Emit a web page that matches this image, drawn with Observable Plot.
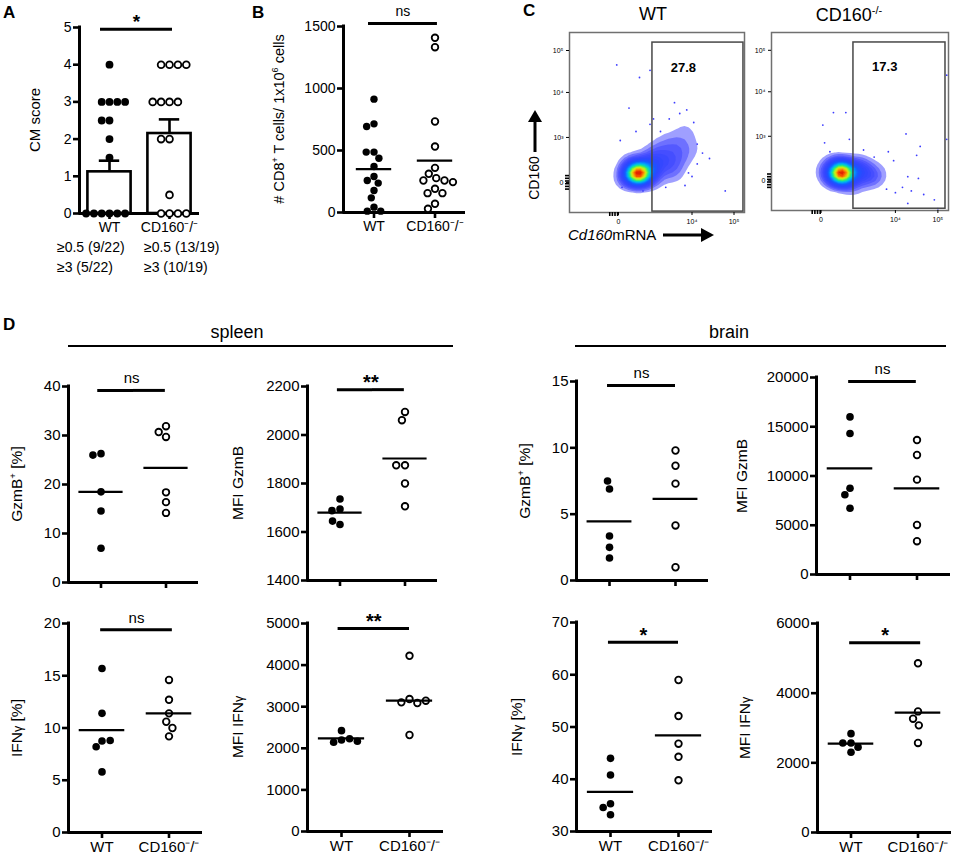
<!DOCTYPE html>
<html><head><meta charset="utf-8">
<script src="https://cdn.jsdelivr.net/npm/d3@7"></script>
<script src="https://cdn.jsdelivr.net/npm/@observablehq/plot@0.6"></script>
<style>
body{margin:0;background:#fff;}
#fig{position:relative;width:957px;height:858px;overflow:hidden;background:#fff;}
sup.s{font-size:0.62em;vertical-align:super;line-height:0;}
span.g{font-size:0.8em;}
</style></head><body><div id="fig"></div><script>
// ---------- data ----------
const groups = ["WT", "CD160⁻/⁻"];

// Panel A: CM score
const cmWT = [4, 3, 3, 3, 3, 2.5, 2.5, 2, 1.5, 0, 0, 0, 0, 0, 0];
const cmKO = [4, 4, 4, 4, 3, 3, 3, 3, 2, 2, 0.5, 0, 0, 0, 0];
const cmMean = [1.12, 2.15];
const cmSemTop = [1.42, 2.53];
const cmTicks = [0, 1, 2, 3, 4, 5];
const cmFrac05 = ["≥0.5 (9/22)", "≥0.5 (13/19)"];
const cmFrac3 = ["≥3 (5/22)", "≥3 (10/19)"];

// Panel B: CD8+ T cells per 1e6 cells
const cd8WT = [914, 715, 694, 487, 487, 438, 371, 290, 258, 237, 177, 118, 43, 11, 11];
const cd8KO = [1409, 1333, 734, 532, 360, 312, 277, 258, 258, 245, 191, 156, 156, 70, 30];
const cd8Mean = [350, 419];
const cd8Ticks = [0, 500, 1000, 1500];

// Panel C: flow cytometry (density anchors: x, y, weight in plot units 0-100)
const flowWT = [[39,22,7],[36,21,3],[42,21,3],[38,24,2],[45,23,2.5],[33,22,1.5],[40,19,2],
  [49,26,1.6],[54,30,1.3],[59,33,1],[63,38,0.8],[57,40,0.7],[51,36,0.8],[66,31,0.7],[69,44,0.5],
  [47,31,1],[61,27,0.9],[55,24,1],[44,28,1.2],[35,28,0.7],[64,48,0.4],[71,36,0.5],[31,18,0.6],[49,18,0.8],[60,21,0.6]];
const flowKO = [[39,21,7],[36,20,3],[42,22,3],[38,24,2],[46,22,2.4],[33,21,1.5],[41,18,2],[51,21,1.6],
  [55,19,1.1],[59,18,0.7],[49,25,1],[54,24,0.7],[45,16,0.9],[31,23,0.6],[36,27,0.6],[61,22,0.5],[47,13,0.5]];
const flowWTscatter = [[27,82],[46,79],[40,75],[60,61],[34,58],[89,12],[67,57],[73,27],[29,40],[46,49],[73,38],[70,20],[80,30],
  [52,45],[57,52],[63,55],[38,45],[76,33],[68,22],[42,12],[30,14],[66,15],[55,14],[48,52],[71,50]];
const flowKOscatter = [[35,55],[42,55],[76,43],[84,36],[82,31],[69,28],[77,19],[83,18],[74,13],[79,11],[86,9],[92,6],[94,1],[77,4],
  [29,48],[99,76],[99,40],[66,33],[30,38],[44,40],[58,30],[65,12],[70,10],[33,33],[52,34]];
const gatePct = [27.8, 17.3];
const gateWT = {x1: 47.4, x2: 99.4, y1: 0.5, y2: 94.4};
const gateKO = {x1: 46.3, x2: 98.3, y1: 1, y2: 94.4};
const flowYTicks = [16.7, 41.7, 66.7, 90];
const flowYLabels = ["0", "10³", "10⁴", "10⁵"];
const flowXTicks = [28, 70, 94];
const flowXLabels = ["0", "10⁴", "10⁵"];
const flowYMinor = [13, 14.5, 16, 17.5, 19, 20.5];
const flowXMinor = [23, 24.5, 26, 27.5];

// Panel D
const sGzmPctWT = [26.3, 26.0, 18.5, 14.6, 7.0];
const sGzmPctKO = [31.9, 29.7, 30.7, 18.4, 16.4, 14.2];
const sGzmPctMean = [18.5, 23.4];
const sGzmMfiWT = [1736, 1695, 1688, 1631, 1645];
const sGzmMfiKO = [2095, 2061, 1875, 1875, 1800, 1706];
const sGzmMfiMean = [1680, 1903];
const bGzmPctWT = [6.9, 7.5, 3.35, 2.5, 1.7];
const bGzmPctKO = [9.8, 8.65, 7.3, 4.15, 1.0];
const bGzmPctMean = [4.45, 6.15];
const bGzmMfiWT = [16000, 14320, 8750, 8100, 6720];
const bGzmMfiKO = [13650, 12130, 9630, 5030, 3380];
const bGzmMfiMean = [10780, 8750];
const sIfnPctWT = [15.7, 11.4, 8.75, 8.2, 8.8, 5.8];
const sIfnPctKO = [14.6, 12.7, 11.4, 10.6, 10.0, 9.2];
const sIfnPctMean = [9.8, 11.4];
const sIfnMfiWT = [2424, 2200, 2144, 2230, 2168];
const sIfnMfiKO = [4224, 3184, 3104, 3088, 3144, 2320];
const sIfnMfiMean = [2240, 3144];
const bIfnPctWT = [44.0, 40.8, 35.3, 34.6, 33.2];
const bIfnPctKO = [59.0, 52.1, 46.8, 44.3, 39.8];
const bIfnPctMean = [37.6, 48.4];
const bIfnMfiWT = [2571, 2838, 2571, 2305, 2450];
const bIfnMfiKO = [4857, 3476, 3267, 3076, 2571];
const bIfnMfiMean = [2550, 3440];

// axis titles
const labCM = "CM score";
const labCD8 = "# CD8<sup class='s'>+</sup> T cells/ 1x10<sup class='s'>6</sup> cells";
const labGzmPct = "GzmB<sup class='s'>+</sup> [%]";
const labGzmMfi = "MFI GzmB";
const labIfnPct = "IFN<span class='g'>γ</span> [%]";
const labIfnMfi = "MFI IFN<span class='g'>γ</span>";

// ---------- drawing ----------
const fig = document.getElementById("fig");
const FONT = '"Liberation Sans", Arial, Helvetica, sans-serif';

function place(node, left, top) {
  node.style.position = "absolute";
  node.style.left = left + "px";
  node.style.top = top + "px";
  fig.appendChild(node);
}

function addText(html, x, y, o = {}) {
  const d = document.createElement("div");
  d.innerHTML = html;
  const tx = o.anchor === "middle" ? "-50%" : o.anchor === "end" ? "-100%" : "0";
  d.style.cssText = `position:absolute;left:${x}px;top:${y}px;font-size:${o.size || 14}px;font-weight:${o.weight || "normal"};white-space:nowrap;line-height:1.1;font-family:${FONT};color:#000;transform:translate(${tx},-50%)${o.rotate ? ` rotate(${o.rotate}deg)` : ""};${o.style || ""}`;
  fig.appendChild(d);
}

function scatterPanel(c) {
  const ml = 40, mr = 6, mt = 36, mb = c.xLabels ? 34 : 14;
  const H = c.bot - c.top;
  const width = ml + c.w + mr, height = mt + H + mb;
  const [lo, hi] = c.domain;
  const g0 = groups[0], g1 = groups[1];
  const fs = c.fontSize;
  const wtRows = c.wt.map(v => ({g: g0, v}));
  const koRows = c.ko.map(v => ({g: g1, v}));
  const meanRows = c.means.map((v, i) => ({g: groups[i], v}));
  const marks = [];
  if (c.bars) {
    const barRows = c.means.map((v, i) => ({g: groups[i], v, top: c.bars[i]}));
    marks.push(Plot.ruleX(barRows, {fx: "g", x: 0.5, y1: "v", y2: "top", stroke: "black", strokeWidth: 2.6}));
    marks.push(Plot.ruleY(barRows, {fx: "g", y: "top", x1: 0.5 - c.capHalf, x2: 0.5 + c.capHalf, stroke: "black", strokeWidth: 2.6}));
    marks.push(Plot.rect(barRows, {fx: "g", x1: 0.5 - c.barHalf, x2: 0.5 + c.barHalf, y1: lo, y2: "v", fill: "white", stroke: "black", strokeWidth: 2.6}));
  }
  marks.push(Plot.ruleY(groups.map(g => ({g})), {fx: "g", y: lo, stroke: "black", strokeWidth: 3}));
  marks.push(Plot.ruleX([{g: g0}], {fx: "g", x: 0, y1: lo, y2: hi, stroke: "black", strokeWidth: 3, strokeLinecap: "square"}));
  marks.push(Plot.axisY({ticks: c.ticks, tickSize: 6, strokeWidth: 2.6, tickPadding: 2, tickFormat: d => String(d), label: null, fontSize: fs}));
  marks.push(Plot.axisFx({anchor: "bottom", tickSize: 6, strokeWidth: 2.6, tickPadding: 3, label: null,
    tickFormat: c.xLabels ? (d => d) : (() => ""), fontSize: c.xFont || fs}));
  marks.push(Plot.dot(wtRows, Plot.dodgeX({anchor: "middle", padding: c.padding ?? 0.6, fx: "g", y: "v", r: c.rFill, fill: "black", stroke: "none"})));
  marks.push(Plot.dot(koRows, Plot.dodgeX({anchor: "middle", padding: (c.padding ?? 0.6) + 1.6, fx: "g", y: "v", r: c.rOpen, fill: "white", stroke: "black", strokeWidth: 1.8})));
  if (c.meanHalf) {
    marks.push(Plot.ruleY(meanRows, {fx: "g", y: "v", x1: 0.5 - c.meanHalf, x2: 0.5 + c.meanHalf, stroke: "black", strokeWidth: 2.2}));
  }
  const sigRows = [{g: g0, y: c.sigY, a: c.sigSpan[0], b: 1}, {g: g1, y: c.sigY, a: 0, b: c.sigSpan[1]}];
  marks.push(Plot.ruleY(sigRows, {fx: "g", y: "y", x1: "a", x2: "b", stroke: "black", strokeWidth: 3}));
  const isNs = c.sig === "ns";
  marks.push(Plot.text([{g: g0, t: c.sig}], {fx: "g", x: (c.sigSpan[0] + 1 + c.sigSpan[1]) / 2, y: c.sigY, text: "t",
    dy: isNs ? -12 : -7, fontSize: isNs ? fs : fs + 5, fontWeight: isNs ? "normal" : "bold"}));

  const svg = Plot.plot({
    width, height, marginLeft: ml, marginRight: mr, marginTop: mt, marginBottom: mb,
    x: {domain: [0, 1], axis: null},
    y: {domain: c.domain},
    fx: {domain: groups, padding: 0},
    style: {fontFamily: FONT, fontSize: fs + "px", color: "black", background: "transparent", overflow: "visible"},
    marks
  });
  place(svg, c.ax - ml, c.top - mt);
  addText(c.label, c.ax - c.labelOffset, (c.top + c.bot) / 2, {size: c.labelSize || 15, anchor: "middle", rotate: -90});
}

const flowInterp = d3.piecewise(d3.interpolateRgb, ["#4040ff", "#2a46ff", "#1060ff", "#00a8ff", "#00e0c8", "#30f060", "#b4ff14", "#ffe600", "#ff8c00", "#ff2800", "#d20000"]);
const yLab = new Map(flowYTicks.map((t, i) => [t, flowYLabels[i]]));
const xLab = new Map(flowXTicks.map((t, i) => [t, flowXLabels[i]]));

function flowPanel(frameLeft, frameTop, fw, fh, anchors, scatter, gate, pct) {
  const ml = 24, mr = 3, mt = 3, mb = 22;
  const gateRow = {...gate, pct: String(pct), tx: gate.x1 + (gate.x2 - gate.x1) * 0.34, ty: 80.5};
  const svg = Plot.plot({
    width: ml + fw + mr, height: mt + fh + mb, marginLeft: ml, marginRight: mr, marginTop: mt, marginBottom: mb,
    x: {domain: [0, 100]}, y: {domain: [0, 100]},
    color: {type: "pow", exponent: 1.7, interpolate: flowInterp},
    style: {fontFamily: FONT, fontSize: "7px", color: "black", background: "transparent", overflow: "visible"},
    marks: [
      Plot.dot(scatter.map(([x, y]) => ({x, y})), {x: "x", y: "y", r: 0.9, fill: "#3c3cff"}),
      Plot.density(anchors.map(([x, y, w]) => ({x, y, w})), {x: "x", y: "y", weight: "w", bandwidth: 5.5, thresholds: 26, fill: "density", fillOpacity: 0.5, clip: true}),
      Plot.frame({stroke: "#707070", strokeWidth: 1.5}),
      Plot.rect([gateRow], {x1: "x1", x2: "x2", y1: "y1", y2: "y2", fill: "none", stroke: "#484848", strokeWidth: 1.5}),
      Plot.text([gateRow], {x: "tx", y: "ty", text: "pct", fontSize: 13, fontWeight: "bold"}),
      Plot.axisY({ticks: flowYTicks, tickFormat: d => yLab.get(d), tickSize: 3, tickPadding: 3, label: null, fontSize: 7}),
      Plot.axisY({ticks: flowYMinor, tickFormat: () => "", tickSize: 4, strokeWidth: 1.6, label: null}),
      Plot.axisX({ticks: flowXTicks, tickFormat: d => xLab.get(d), tickSize: 3, tickPadding: 4, label: null, fontSize: 7}),
      Plot.axisX({ticks: flowXMinor, tickFormat: () => "", tickSize: 4, strokeWidth: 1.6, label: null})
    ]
  });
  place(svg, frameLeft - ml, frameTop - mt);
}

// ---- Panel A
scatterPanel({ax: 79, top: 27, bot: 213, w: 120, domain: [0, 5], ticks: cmTicks, label: labCM, labelOffset: 44, labelSize: 15,
  wt: cmWT, ko: cmKO, means: cmMean, bars: cmSemTop, barHalf: 0.36, capHalf: 0.17, sig: "*", sigY: 4.95, sigSpan: [0.35, 0.55],
  xLabels: true, fontSize: 14, xFont: 14, rFill: 3.9, rOpen: 3.4, padding: 0});
addText(cmFrac05[0], 57, 248, {size: 14});
addText(cmFrac05[1], 144, 248, {size: 14});
addText(cmFrac3[0], 57, 268, {size: 14});
addText(cmFrac3[1], 144, 268, {size: 14});

// ---- Panel B
scatterPanel({ax: 342, top: 26, bot: 212, w: 123, domain: [0, 1500], ticks: cd8Ticks, label: labCD8, labelOffset: 62, labelSize: 14.5,
  wt: cd8WT, ko: cd8KO, means: cd8Mean, meanHalf: 0.29, sig: "ns", sigY: 1524, sigSpan: [0.41, 0.54],
  xLabels: true, fontSize: 14, xFont: 14, rFill: 3.7, rOpen: 3.3, padding: 0.4});

// ---- Panel C
flowPanel(569, 32, 175, 180, flowWT, flowWTscatter, gateWT, gatePct[0]);
flowPanel(771, 32, 177, 178, flowKO, flowKOscatter, gateKO, gatePct[1]);
addText("WT", 653, 15, {size: 18, anchor: "middle"});
addText("CD160<sup style='font-size:11px'>-/-</sup>", 849, 15, {size: 18, anchor: "middle"});
addText("CD160", 535, 178, {size: 14, anchor: "middle", rotate: -90});
addText("<i>Cd160</i>mRNA", 568, 235, {size: 15});

// ---- Panel D
const dCommon = {fontSize: 15, xFont: 15, rFill: 3.8, rOpen: 3.3, meanHalf: 0.34, padding: 0.6, labelSize: 15.5};
scatterPanel({...dCommon, ax: 68, top: 386, bot: 582, w: 130, domain: [0, 40], ticks: [0, 10, 20, 30, 40], label: labGzmPct, labelOffset: 51,
  wt: sGzmPctWT, ko: sGzmPctKO, means: sGzmPctMean, sig: "ns", sigY: 39.2, sigSpan: [0.45, 0.49]});
scatterPanel({...dCommon, ax: 307, top: 386, bot: 580, w: 130, domain: [1400, 2200], ticks: [1400, 1600, 1800, 2000, 2200], label: labGzmMfi, labelOffset: 69,
  wt: sGzmMfiWT, ko: sGzmMfiKO, means: sGzmMfiMean, sig: "**", sigY: 2187, sigSpan: [0.46, 0.49]});
scatterPanel({...dCommon, ax: 576, top: 381, bot: 580, w: 132, domain: [0, 15], ticks: [0, 5, 10, 15], label: labGzmPct, labelOffset: 51,
  wt: bGzmPctWT, ko: bGzmPctKO, means: bGzmPctMean, sig: "ns", sigY: 14.7, sigSpan: [0.47, 0.5]});
scatterPanel({...dCommon, ax: 816, top: 377, bot: 574, w: 134, domain: [0, 20000], ticks: [0, 5000, 10000, 15000, 20000], label: labGzmMfi, labelOffset: 74,
  wt: bGzmMfiWT, ko: bGzmMfiKO, means: bGzmMfiMean, sig: "ns", sigY: 19600, sigSpan: [0.48, 0.49]});
scatterPanel({...dCommon, ax: 68, top: 623, bot: 832, w: 134, domain: [0, 20], ticks: [0, 5, 10, 15, 20], label: labIfnPct, labelOffset: 51,
  wt: sIfnPctWT, ko: sIfnPctKO, means: sIfnPctMean, sig: "ns", sigY: 19.4, sigSpan: [0.48, 0.55], xLabels: true});
scatterPanel({...dCommon, ax: 306, top: 623, bot: 831, w: 137, domain: [0, 5000], ticks: [0, 1000, 2000, 3000, 4000, 5000], label: labIfnMfi, labelOffset: 68,
  wt: sIfnMfiWT, ko: sIfnMfiKO, means: sIfnMfiMean, sig: "**", sigY: 4880, sigSpan: [0.45, 0.5], xLabels: true});
scatterPanel({...dCommon, ax: 575, top: 622, bot: 831, w: 137, domain: [30, 70], ticks: [30, 40, 50, 60, 70], label: labIfnPct, labelOffset: 58,
  wt: bIfnPctWT, ko: bIfnPctKO, means: bIfnPctMean, sig: "*", sigY: 66.2, sigSpan: [0.47, 0.5], xLabels: true});
scatterPanel({...dCommon, ax: 817, top: 623, bot: 832, w: 134, domain: [0, 6000], ticks: [0, 2000, 4000, 6000], label: labIfnMfi, labelOffset: 72,
  wt: bIfnMfiWT, ko: bIfnMfiKO, means: bIfnMfiMean, sig: "*", sigY: 5450, sigSpan: [0.48, 0.54], xLabels: true});

addText("spleen", 237, 333, {size: 18, anchor: "middle"});
addText("brain", 729, 333, {size: 18, anchor: "middle"});

// panel letters
addText("A", 3, 13, {size: 17, weight: "bold"});
addText("B", 252, 13, {size: 17, weight: "bold"});
addText("C", 523, 11, {size: 17, weight: "bold"});
addText("D", 3, 325, {size: 17, weight: "bold"});

// decorative lines and arrows
const ns = "http://www.w3.org/2000/svg";
const over = document.createElementNS(ns, "svg");
over.setAttribute("width", 957); over.setAttribute("height", 858);
over.style.cssText = "position:absolute;left:0;top:0;pointer-events:none;";
over.innerHTML = `
  <line x1="68" y1="346" x2="453" y2="346" stroke="black" stroke-width="2"/>
  <line x1="575" y1="346" x2="946" y2="346" stroke="black" stroke-width="2"/>
  <line x1="535" y1="152" x2="535" y2="120" stroke="black" stroke-width="3"/>
  <path d="M528,122 L535,110 L542,122 Z" fill="black"/>
  <line x1="663" y1="235" x2="703" y2="235" stroke="black" stroke-width="3"/>
  <path d="M701,228 L714,235 L701,242 Z" fill="black"/>`;
fig.appendChild(over);
</script></body></html>
